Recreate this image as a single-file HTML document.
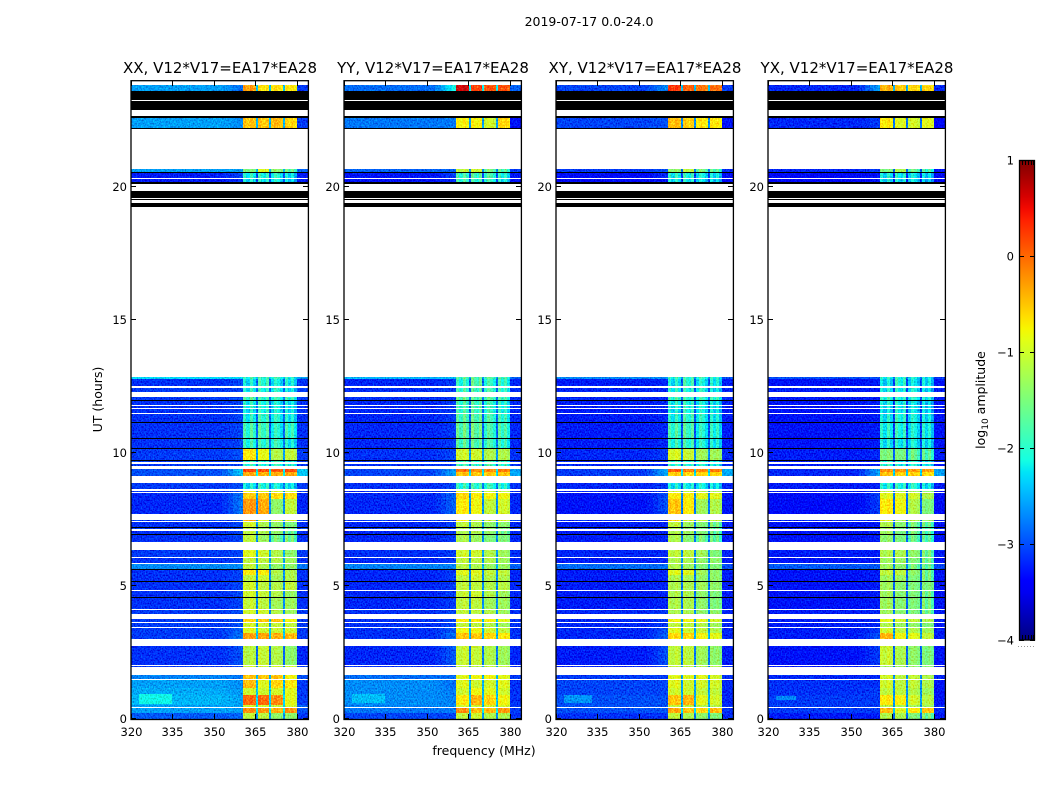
<!DOCTYPE html>
<html><head><meta charset="utf-8"><title>2019-07-17 dynamic spectra</title>
<style>html,body{margin:0;padding:0;background:#fff}svg{display:block}text{font-family:"DejaVu Sans","Liberation Sans",sans-serif;fill:#000}</style></head>
<body>
<svg id="fig" xmlns="http://www.w3.org/2000/svg" width="1050" height="800" viewBox="0 0 1050 800">
<defs>
<filter id="grain" filterUnits="userSpaceOnUse" x="120" y="70" width="840" height="660" color-interpolation-filters="sRGB">
<feTurbulence type="fractalNoise" baseFrequency="0.75 0.6" numOctaves="1" seed="7" result="n"/>
<feColorMatrix in="n" type="matrix" values="0 0 0 0 0.5 1 0 0 0 0 1 0 0 0 0 0 0 0 0 1" result="g"/>
<feComposite in="g" in2="SourceAlpha" operator="in" result="ga"/>
<feComposite in="SourceGraphic" in2="ga" operator="arithmetic" k1="0" k2="1" k3="0.8" k4="-0.4"/>
</filter>
<linearGradient id="jet" x1="0" y1="1" x2="0" y2="0"></linearGradient>
</defs>
<text x="589" y="26" text-anchor="middle" font-size="12.5">2019-07-17 0.0-24.0</text>
<text x="484" y="755" text-anchor="middle" font-size="12.5">frequency (MHz)</text>
<text transform="translate(102,399.5) rotate(-90)" text-anchor="middle" font-size="12.5">UT (hours)</text>
<text transform="translate(985,400) rotate(-90)" text-anchor="middle" font-size="12.5">log<tspan font-size="9" dy="3">10</tspan><tspan dy="-3"> amplitude</tspan></text>
</svg>
<script>
const SVGNS = 'http://www.w3.org/2000/svg';
const panelTitles = ['XX, V12*V17=EA17*EA28','YY, V12*V17=EA17*EA28','XY, V12*V17=EA17*EA28','YX, V12*V17=EA17*EA28'];
const xTicks = [320,335,350,365,380];
const yTicks = [0,5,10,15,20];
const colorTicks = [-4,-3,-2,-1,0,1];
const utRows = [[0,.23],[.23,.41],[.45,.52],[.52,.9],[.9,1.15],[1.15,1.47],[1.5,1.66],[1.96,1.99],[2.03,2.75],[3.01,3.24],[3.24,3.42],[3.46,3.61],[3.65,3.76],[3.95,4.1],[4.14,4.55],[4.59,4.82],[4.85,5.15],[5.19,5.4],[5.4,5.61],[5.64,5.83],[5.87,6.06],[6.09,6.36],[6.66,6.92],[6.96,7.07],[7.15,7.19],[7.22,7.41],[7.45,7.49],[7.71,8.27],[8.27,8.5],[8.54,8.58],[8.65,8.88],[9.14,9.29],[9.29,9.41],[9.52,9.59],[9.67,9.71],[9.74,10.16],[10.2,10.53],[10.57,11.14],[11.17,11.47],[11.51,11.66],[11.7,11.78],[11.81,11.96],[12,12.11],[12.3,12.45],[12.53,12.79],[12.79,12.87],[20.2,20.31],[20.35,20.54],[20.58,20.69],[22.23,22.61],[23.63,23.85]];
const flaggedRows = [[4.55,4.59],[5.15,5.19],[5.61,5.64],[6.92,6.96],[7.19,7.22],[9.71,9.74],[10.16,10.2],[10.53,10.57],[11.14,11.17],[11.96,12],[19.26,19.41],[19.52,19.56],[19.6,19.86],[20.13,20.2],[20.54,20.58],[22.19,22.23],[22.61,22.68],[22.91,23.25],[23.29,23.63]];
// each row: low, near-band, band1, band2, band3, band4, band-gap, upper-edge (log10 amplitude)
const xxLevels = [[-2.95,-2.9,-1.1,-1.1,-1.4,-1.4,-2.7,-3.1],[-2.6,-2.6,-.2,-.25,-.4,-.25,-2.2,-3],[-2.6,-2.6,-1,-1,-1.1,-1,-2.4,-2.9],[-2.5,-2.6,0,0,-.2,-.9,-2.3,-3.1],[-2.55,-2.65,-1,-1,-1,-.9,-2.4,-3.1],[-2.6,-2.7,-.45,-.9,-.6,-.7,-2.5,-3.1],[-2.75,-2.8,-.5,-.5,-.5,-.8,-2.5,-3],[-3.1,-3.1,-1,-1,-1,-1,-2.7,-3.1],[-3.15,-3,-1.15,-1.05,-1.2,-1.4,-2.9,-3.2],[-3.1,-2.8,-.3,-.3,-.4,-.45,-2.4,-3.1],[-3.1,-2.9,-.9,-1,-1.05,-1,-2.4,-3.1],[-3.1,-3,-1,-1,-1.1,-1.1,-2.6,-3.1],[-3.1,-3,-.6,-.5,-.5,-.8,-2.4,-3.1],[-3.1,-3,-1,-1,-1.2,-1.3,-2.7,-3.1],[-3.15,-3.05,-1.05,-1.1,-1.3,-1.3,-2.7,-3.15],[-3.15,-3.05,-1,-1.05,-1.2,-1.35,-2.7,-3.15],[-3.15,-3.05,-1,-1.1,-1.2,-1.1,-2.7,-3.15],[-3.15,-3.05,-1.1,-1,-1.3,-1.2,-2.7,-3.15],[-3.15,-3.05,-.7,-.7,-1.2,-1.2,-2.7,-3.15],[-2.7,-2.7,-1.1,-1.2,-1.4,-1.4,-2.5,-2.8],[-3.15,-3.05,-1.1,-1.1,-1.2,-1.3,-2.6,-3.15],[-3.1,-3.05,-.9,-1,-1.2,-1.4,-2.5,-3.1],[-3.15,-3.05,-1.1,-1.3,-1.6,-1.6,-2.7,-3.15],[-3.15,-3.05,-1.1,-1.2,-1.4,-1.7,-2.7,-3.15],[-3.1,-3.05,-1.1,-1.3,-1.4,-1.6,-2.7,-3.1],[-3.15,-3.05,-1,-1.2,-1.4,-1.5,-2.7,-3.15],[-3.1,-3.05,-.4,-.9,-1,-1,-2.7,-3.1],[-3.2,-2.8,-.25,-.35,-1.4,-1.1,-2.7,-3.2],[-3.2,-2.8,-.55,-.5,-.65,-.65,-2.6,-3.2],[-3.15,-3.05,-.8,-.9,-1,-1,-2.7,-3.15],[-3.1,-3,-2.2,-2,-2.2,-2.3,-2.8,-3.1],[-3,-2.4,-.35,-.4,-.4,-.35,-2.2,-2.4],[-3,-2.4,.2,.15,.05,.15,-2.2,-2.4],[-3.1,-3.05,-2,-2,-2,-2.1,-2.8,-3.1],[-3.1,-3.05,-2,-2,-2,-2.2,-2.8,-3.1],[-3.1,-3,-.7,-.85,-1.2,-1.1,-2.6,-3.1],[-3.15,-3.05,-2,-1.9,-2,-2.2,-2.8,-3.15],[-3.15,-3.05,-1.9,-1.8,-2.1,-2,-2.9,-3.15],[-3.15,-3.05,-2.1,-1.9,-2.1,-2.2,-2.9,-3.15],[-3.15,-3.05,-2.2,-2,-2.2,-2.3,-2.9,-3.15],[-3.15,-3.05,-2.1,-2,-2.2,-2.3,-2.9,-3.15],[-3.15,-3.05,-2.1,-2,-2.2,-2.3,-2.9,-3.15],[-3.1,-3.05,-1.8,-1.9,-2,-2,-2.8,-3.1],[-3.1,-3.05,-2.1,-2,-2.1,-2.3,-2.9,-3.1],[-3.15,-3.05,-2.2,-1.9,-2.2,-2.2,-2.9,-3.15],[-2.3,-2.3,-2,-1.9,-2,-2.1,-2.4,-2.6],[-3.25,-3.15,-2.2,-2.1,-2.2,-2.4,-3,-3.25],[-3.25,-3.05,-2.1,-2,-2.1,-2.3,-3,-3.25],[-2.6,-2.6,-1.5,-.9,-1.4,-1.7,-2.5,-2.9],[-2.6,-2.7,-.5,-.5,-.45,-.6,-2.5,-3.1],[-2.6,-2.85,-.3,-.65,-.65,-.7,-2.4,-3.1]];
const yyLevels = [[-3.05,-3.05,-1.1,-1,-1.2,-1.2,-2.7,-3.15],[-2.8,-2.8,-.2,-.45,-.45,-.25,-2.2,-3.1],[-2.75,-2.75,-1,-1,-1,-1,-2.5,-3.1],[-2.7,-2.75,-.7,-.4,-.6,-.8,-2.4,-3.15],[-2.7,-2.8,-1,-.8,-.9,-1,-2.5,-3.15],[-2.7,-2.85,-.9,-1,-1,-.9,-2.5,-3.15],[-2.85,-2.85,-.9,-.8,-.8,-.9,-2.5,-3.1],[-3.15,-3.05,-1.1,-1.1,-1.1,-1.1,-2.6,-3.15],[-3.2,-2.95,-1.05,-1.05,-1.2,-1.3,-2.8,-3.2],[-3.15,-2.85,-.5,-.5,-.6,-.7,-2.5,-3.15],[-3.15,-2.95,-.8,-.8,-1,-1.1,-2.5,-3.15],[-3.15,-3.05,-1.1,-1.1,-1.2,-1.3,-2.6,-3.15],[-3.15,-3.05,-.7,-.7,-.8,-.9,-2.5,-3.15],[-3.15,-3.05,-1.1,-1.1,-1.2,-1.3,-2.7,-3.15],[-3.2,-3.1,-1.1,-1.1,-1.3,-1.3,-2.7,-3.2],[-3.2,-3.1,-1.05,-1,-1.2,-1.3,-2.7,-3.2],[-3.2,-3.1,-1.1,-1.1,-1.2,-1.15,-2.7,-3.2],[-3.2,-3.1,-1.1,-1,-1.2,-1.2,-2.7,-3.2],[-3.2,-3.1,-.9,-.9,-1.1,-1.1,-2.7,-3.2],[-2.75,-2.75,-1.15,-1.2,-1.35,-1.35,-2.5,-2.9],[-3.2,-3.1,-1.1,-1.1,-1.2,-1.3,-2.7,-3.2],[-3.15,-3.1,-1,-1,-1.2,-1.3,-2.6,-3.15],[-3.2,-3.1,-1.2,-1.3,-1.5,-1.5,-2.7,-3.2],[-3.2,-3.1,-1.2,-1.2,-1.4,-1.6,-2.7,-3.2],[-3.15,-3.1,-1.2,-1.3,-1.4,-1.5,-2.7,-3.15],[-3.2,-3.1,-1.1,-1.2,-1.4,-1.4,-2.7,-3.2],[-3.15,-3.1,-.7,-1,-1.1,-1,-2.7,-3.15],[-3.2,-2.9,-.7,-.8,-1.1,-1,-2.7,-3.2],[-3.2,-2.9,-.6,-.7,-.8,-.8,-2.6,-3.2],[-3.2,-3.1,-.9,-1,-1.1,-1.1,-2.7,-3.2],[-3.15,-3.05,-2,-1.9,-2,-2.1,-2.8,-3.15],[-3.05,-2.55,-.5,-.5,-.55,-.5,-2.3,-2.55],[-3.05,-2.6,-.05,-.2,-.2,-.1,-2.3,-2.6],[-3.15,-3.1,-1.9,-1.9,-1.9,-2,-2.8,-3.15],[-3.15,-3.1,-1.9,-1.9,-1.9,-2,-2.8,-3.15],[-3.15,-3.05,-1,-1,-1.2,-1.2,-2.6,-3.15],[-3.2,-3.1,-1.8,-1.7,-1.9,-2,-2.8,-3.2],[-3.2,-3.1,-1.7,-1.6,-1.9,-1.9,-2.9,-3.2],[-3.2,-3.1,-1.8,-1.7,-1.9,-2,-2.9,-3.2],[-3.2,-3.1,-1.9,-1.8,-2,-2.1,-2.9,-3.2],[-3.2,-3.1,-1.9,-1.8,-2,-2.1,-2.9,-3.2],[-3.2,-3.1,-1.9,-1.8,-2,-2.1,-2.9,-3.2],[-3.15,-3.1,-1.7,-1.7,-1.8,-1.9,-2.8,-3.15],[-3.15,-3.1,-1.9,-1.8,-1.9,-2,-2.9,-3.15],[-3.2,-3.1,-2,-1.7,-2,-2,-2.9,-3.2],[-2.5,-2.5,-1.8,-1.7,-1.8,-1.9,-2.6,-2.9],[-3.3,-3.2,-1.9,-1.9,-2,-2.2,-3,-3.3],[-3.3,-3.1,-1.9,-1.8,-1.9,-2.1,-3,-3.3],[-2.9,-2.9,-1.1,-1,-1.6,-1.8,-2.7,-3.1],[-2.8,-2.8,-.75,-.75,-1,-.6,-2.6,-3.3],[-2.85,-2.1,.65,.2,.1,.1,-2.2,-2.9]];
const xyLevels = [[-3.15,-3.15,-1.1,-1.2,-1.4,-1.5,-2.8,-3.2],[-3,-2.95,-.35,-.5,-.6,-.45,-2.3,-3.15],[-3,-3,-1.1,-1.1,-1.2,-1.2,-2.6,-3.15],[-3,-3,-.5,-.4,-.9,-1,-2.5,-3.2],[-3.05,-3.05,-1,-1,-1.1,-1.1,-2.6,-3.2],[-3.05,-3.05,-.9,-1,-1,-1,-2.6,-3.2],[-3.1,-3.1,-.9,-.9,-.9,-1,-2.6,-3.15],[-3.2,-3.1,-1.1,-1.1,-1.2,-1.2,-2.7,-3.2],[-3.25,-3,-1.1,-1.1,-1.3,-1.4,-2.8,-3.25],[-3.2,-2.9,-.6,-.6,-.8,-.9,-2.5,-3.2],[-3.2,-3,-.9,-1,-1.1,-1.2,-2.6,-3.2],[-3.2,-3.1,-1.1,-1.1,-1.2,-1.3,-2.7,-3.2],[-3.2,-3.1,-.8,-.8,-.9,-1,-2.6,-3.2],[-3.2,-3.1,-1.2,-1.2,-1.4,-1.4,-2.7,-3.2],[-3.25,-3.2,-1.2,-1.2,-1.4,-1.5,-2.8,-3.25],[-3.25,-3.2,-1.2,-1.2,-1.4,-1.5,-2.8,-3.25],[-3.25,-3.2,-1.2,-1.2,-1.3,-1.4,-2.8,-3.25],[-3.25,-3.2,-1.2,-1.2,-1.4,-1.4,-2.8,-3.25],[-3.25,-3.2,-.9,-.9,-1.3,-1.4,-2.8,-3.25],[-2.85,-2.85,-1.2,-1.3,-1.5,-1.5,-2.6,-3],[-3.25,-3.2,-1.2,-1.2,-1.4,-1.4,-2.7,-3.25],[-3.2,-3.2,-1.1,-1.1,-1.3,-1.5,-2.7,-3.2],[-3.25,-3.2,-1.2,-1.4,-1.6,-1.7,-2.8,-3.25],[-3.25,-3.2,-1.2,-1.3,-1.5,-1.7,-2.8,-3.25],[-3.2,-3.2,-1.2,-1.4,-1.5,-1.7,-2.8,-3.2],[-3.25,-3.2,-1.1,-1.3,-1.5,-1.6,-2.8,-3.25],[-3.2,-3.2,-.6,-1,-1.1,-1.1,-2.8,-3.2],[-3.3,-3,-.5,-.7,-1.3,-1.2,-2.8,-3.3],[-3.3,-3,-.7,-.7,-.9,-.9,-2.7,-3.3],[-3.25,-3.2,-1,-1.1,-1.2,-1.2,-2.8,-3.25],[-3.2,-3.1,-2.2,-2.1,-2.2,-2.3,-2.9,-3.2],[-3.1,-2.55,-.55,-.6,-.6,-.6,-2.3,-2.55],[-3.1,-2.55,.05,-.1,-.2,-.1,-2.3,-2.55],[-3.2,-3.2,-2,-2,-2.1,-2.2,-2.9,-3.2],[-3.2,-3.2,-2,-2,-2.1,-2.2,-2.9,-3.2],[-3.2,-3.1,-.95,-1.05,-1.3,-1.3,-2.7,-3.2],[-3.25,-3.2,-2,-1.9,-2.1,-2.2,-2.9,-3.25],[-3.25,-3.2,-1.9,-1.8,-2.1,-2.1,-3,-3.25],[-3.25,-3.2,-2.1,-1.9,-2.1,-2.2,-3,-3.25],[-3.25,-3.2,-2.2,-2,-2.2,-2.3,-3,-3.25],[-3.25,-3.2,-2.1,-2,-2.2,-2.3,-3,-3.25],[-3.25,-3.2,-2.1,-2,-2.2,-2.3,-3,-3.25],[-3.2,-3.2,-1.9,-1.9,-2,-2,-2.9,-3.2],[-3.2,-3.2,-2.1,-2,-2.1,-2.3,-3,-3.2],[-3.25,-3.2,-2.2,-1.9,-2.2,-2.2,-3,-3.25],[-2.7,-2.7,-2,-1.9,-2,-2.1,-2.7,-3],[-3.35,-3.3,-2.2,-2.1,-2.3,-2.4,-3.1,-3.35],[-3.35,-3.2,-2.1,-2,-2.2,-2.3,-3.1,-3.35],[-3.1,-3,-1.4,-1.1,-1.6,-1.8,-2.8,-3.2],[-3.05,-3,-.45,-.55,-.7,-.7,-2.7,-3.3],[-3.05,-2.7,.25,.05,-.1,-.05,-2.4,-3.1]];
const yxLevels = [[-3.25,-3.25,-1.2,-1.2,-1.5,-1.6,-2.9,-3.3],[-3.1,-3.1,-.45,-.9,-.7,-.5,-2.4,-3.2],[-3.1,-3.1,-1.2,-1.2,-1.3,-1.3,-2.7,-3.2],[-3.1,-3.1,-.7,-.75,-1,-1.15,-2.6,-3.3],[-3.15,-3.1,-1.1,-1.1,-1.2,-1.3,-2.7,-3.3],[-3.15,-3.15,-1,-1.1,-1.1,-1.2,-2.7,-3.3],[-3.2,-3.2,-1,-1.1,-1.1,-1.2,-2.7,-3.2],[-3.25,-3.2,-1.3,-1.3,-1.4,-1.4,-2.8,-3.25],[-3.3,-3.1,-1.05,-1.2,-1.4,-1.5,-2.9,-3.3],[-3.25,-3,-.4,-.8,-.9,-1.1,-2.6,-3.25],[-3.25,-3.1,-1,-1.1,-1.2,-1.3,-2.7,-3.25],[-3.25,-3.2,-1.2,-1.3,-1.4,-1.5,-2.8,-3.25],[-3.25,-3.2,-.9,-1,-1.1,-1.2,-2.7,-3.25],[-3.25,-3.2,-1.3,-1.4,-1.5,-1.6,-2.8,-3.25],[-3.3,-3.25,-1.3,-1.4,-1.5,-1.6,-2.9,-3.3],[-3.3,-3.25,-1.3,-1.4,-1.5,-1.6,-2.9,-3.3],[-3.3,-3.25,-1.3,-1.4,-1.5,-1.5,-2.9,-3.3],[-3.3,-3.25,-1.3,-1.3,-1.5,-1.6,-2.9,-3.3],[-3.3,-3.25,-1.1,-1.1,-1.4,-1.6,-2.9,-3.3],[-2.95,-2.95,-1.3,-1.4,-1.6,-1.7,-2.7,-3.05],[-3.3,-3.25,-1.3,-1.3,-1.5,-1.6,-2.8,-3.3],[-3.25,-3.25,-1.2,-1.2,-1.4,-1.6,-2.8,-3.25],[-3.3,-3.25,-1.4,-1.5,-1.7,-1.8,-2.9,-3.3],[-3.3,-3.25,-1.3,-1.5,-1.6,-1.8,-2.9,-3.3],[-3.25,-3.25,-1.3,-1.5,-1.6,-1.8,-2.9,-3.25],[-3.3,-3.25,-1.2,-1.4,-1.6,-1.7,-2.9,-3.3],[-3.25,-3.25,-.9,-1.2,-1.2,-1.3,-2.9,-3.25],[-3.35,-3.1,-.7,-.8,-1.2,-1.5,-2.9,-3.35],[-3.35,-3.1,-.9,-.9,-1,-1.2,-2.8,-3.35],[-3.3,-3.25,-1.1,-1.2,-1.3,-1.4,-2.9,-3.3],[-3.25,-3.2,-2.1,-2,-2.1,-2.3,-3,-3.25],[-3.2,-2.6,-.5,-.55,-.6,-.65,-2.4,-2.6],[-3.2,-2.6,-.2,-.25,-.3,-.3,-2.4,-2.6],[-3.25,-3.25,-2,-2.1,-2.1,-2.3,-3,-3.25],[-3.25,-3.25,-2,-2.1,-2.1,-2.3,-3,-3.25],[-3.25,-3.2,-1.5,-1.5,-1.7,-1.8,-2.9,-3.25],[-3.3,-3.25,-2.2,-2.1,-2.2,-2.3,-3,-3.3],[-3.3,-3.25,-2.1,-2,-2.2,-2.2,-3.1,-3.3],[-3.3,-3.25,-2.2,-2,-2.2,-2.3,-3.1,-3.3],[-3.3,-3.25,-2.3,-2.1,-2.3,-2.4,-3.1,-3.3],[-3.3,-3.25,-2.2,-2.1,-2.3,-2.4,-3.1,-3.3],[-3.3,-3.25,-2.2,-2.1,-2.3,-2.4,-3.1,-3.3],[-3.25,-3.25,-2,-2,-2.1,-2.2,-3,-3.25],[-3.25,-3.25,-2.2,-2.1,-2.2,-2.4,-3.1,-3.25],[-3.3,-3.25,-2.3,-2,-2.3,-2.3,-3.1,-3.3],[-3,-3,-2.1,-2,-2.2,-2.3,-2.8,-3.1],[-3.4,-3.3,-2.3,-2.2,-2.3,-2.5,-3.2,-3.4],[-3.4,-3.3,-2.2,-2.1,-2.3,-2.4,-3.2,-3.4],[-3.2,-3.1,-1.5,-1.2,-1.7,-1.9,-2.9,-3.3],[-3.2,-3.1,-.7,-.9,-1,-.9,-2.8,-3.4],[-3.2,-2.6,-.4,-.5,-.6,-.6,-2.5,-3.2]];
// extra patches in low band: freq start, freq end, UT start, UT end, level
const xxPatches = [[323,335,.55,.95,-2.15]];
const yyPatches = [[323,335,.6,.95,-2.45]];
const xyPatches = [[323,333,.6,.9,-2.65]];
const yxPatches = [[323,330,.7,.85,-2.7]];
// channel-to-channel offsets inside each of the four sub-bands
const bandRipple = [[.12,-.15,.2,-.1],[.15,-.1,-.2,.1],[-.1,.2,.05,-.15],[.2,-.1,.15,-.2]];
const panelNames = ['xx','yy','xy','yx'];
const panelLevels = [xxLevels,yyLevels,xyLevels,yxLevels];
const panelPatches = [xxPatches,yyPatches,xyPatches,yxPatches];

const FIG = document.getElementById('fig');
const AX_LEFT = [131,344,556,768], AX_W = 177, AX_TOP = 81, AX_BOT = 719;
function xAxis(i,f){return AX_LEFT[i]+(f-320)*AX_W/64;}
function yAxis(u){return AX_BOT-u*(AX_BOT-AX_TOP)/24;}
function cbAxis(v){return 640-(v+4)*96;}
function jet(v){
  const p=Math.max(0,Math.min(1,(v+4)/5));
  const c=(a)=>Math.round(255*Math.max(0,Math.min(1,a)));
  const ramp=(pts)=>{for(let k=1;k<pts.length;k++){if(p<=pts[k][0]){const t=(p-pts[k-1][0])/(pts[k][0]-pts[k-1][0]);return pts[k-1][1]+t*(pts[k][1]-pts[k-1][1]);}}return pts[pts.length-1][1];};
  const r=ramp([[0,0],[.35,0],[.66,1],[.89,1],[1,.5]]);
  const g=ramp([[0,0],[.125,0],[.375,1],[.64,1],[.91,0],[1,0]]);
  const b=ramp([[0,.5],[.11,1],[.34,1],[.65,0],[1,0]]);
  return 'rgb('+c(r)+','+c(g)+','+c(b)+')';
}
function mk(parent,tag,attrs){const el=document.createElementNS(SVGNS,tag);for(const k in attrs)el.setAttribute(k,attrs[k]);parent.appendChild(el);return el;}
const bandEdges = [[360.6,365.2],[365.9,370],[370.6,375],[375.7,380]];
const gapEdges = [[365.2,365.9],[370,370.6],[375,375.7]];

panelNames.forEach(function(pn,i){
  const x0=AX_LEFT[i],levels=panelLevels[i];
  const g=mk(FIG,'g',{});
  
  
  const heat=mk(g,'g',{filter:'url(#grain)','shape-rendering':'crispEdges'});
  
  
  function cell(f0,f1,u0,u1,v){
    const a=Math.round(xAxis(i,f0)),b=Math.round(xAxis(i,f1)),t=Math.round(yAxis(u1)),d=Math.round(yAxis(u0));
    const r=mk(heat,'rect',{x:a,y:t,width:Math.max(1,b-a),height:Math.max(1,d-t),fill:jet(v)});
    
    
  }
  utRows.forEach(function(row,ri){
    const L=levels[ri];
    cell(320,353,row[0],row[1],L[0]);
    cell(353,355,row[0],row[1],L[0]+.2*(L[1]-L[0]));
    cell(355,357,row[0],row[1],L[0]+.45*(L[1]-L[0]));
    cell(357,359,row[0],row[1],L[0]+.75*(L[1]-L[0]));
    cell(359,360.6,row[0],row[1],L[1]);
    bandEdges.forEach(function(be,b){
      const base=L[2+b],w=(be[1]-be[0])/4,gain=base<-1.5?1.2:.35;
      bandRipple[b].forEach(function(off,k){
        cell(be[0]+k*w,be[0]+(k+1)*w,row[0],row[1],base+off*gain);
      });
    });
    gapEdges.forEach(function(ge){cell(ge[0],ge[1],row[0],row[1],L[6]);});
    cell(380,384,row[0],row[1],L[7]);
  });
  panelPatches[i].forEach(function(p){cell(p[0],p[1],p[2],p[3],p[4]);});
  flaggedRows.forEach(function(fr){
    const t=Math.round(yAxis(fr[1])),d=Math.round(yAxis(fr[0]));
    const r=mk(g,'rect',{x:x0,y:t,width:AX_W,height:Math.max(1,d-t),fill:'#000','shape-rendering':'crispEdges'});
    
    
  });
  const frame=mk(g,'rect',{x:x0,y:AX_TOP-.3,width:AX_W+.4,height:AX_BOT-AX_TOP+.8,fill:'none',stroke:'#000','stroke-width':1.3});
  
  
  xTicks.forEach(function(t){
    const x=Math.round(xAxis(i,t))+.5;
    const a=mk(g,'line',{x1:x,x2:x,y1:AX_BOT,y2:AX_BOT-5,stroke:'#000'});
    
    
    const b=mk(g,'line',{x1:x,x2:x,y1:AX_TOP,y2:AX_TOP+5,stroke:'#000'});
    
    
    const l=mk(g,'text',{x:x,y:736,'text-anchor':'middle','font-size':11.5});
    l.textContent=t;
    
    
  });
  yTicks.forEach(function(t){
    const y=Math.round(yAxis(t))-.5;
    const a=mk(g,'line',{x1:x0,x2:x0+5,y1:y,y2:y,stroke:'#000'});
    
    
    const b=mk(g,'line',{x1:x0+AX_W,x2:x0+AX_W-5,y1:y,y2:y,stroke:'#000'});
    
    
    const l=mk(g,'text',{x:x0-4,y:y+4.5,'text-anchor':'end','font-size':11.5});
    l.textContent=t;
    
    
  });
  const title=mk(g,'text',{x:x0+AX_W/2+.5,y:73,'text-anchor':'middle','font-size':15});
  title.textContent=panelTitles[i];
  
  
});

const grad=document.getElementById('jet');
for(let s=0;s<=40;s++){
  const v=-4+5*s/40;
  mk(grad,'stop',{offset:(s/40),'stop-color':jet(v)});
}
const cb=mk(FIG,'g',{});


const bar=mk(cb,'rect',{x:1019.5,y:160.5,width:15,height:479.5,fill:'url(#jet)',stroke:'#000','stroke-width':1.3});


colorTicks.forEach(function(t){
  const y=Math.round(cbAxis(t))+.5;
  const a=mk(cb,'line',{x1:1019,x2:1024,y1:y,y2:y,stroke:'#000'});
  
  
  const b=mk(cb,'line',{x1:1035,x2:1030,y1:y,y2:y,stroke:'#000'});
  
  
  const l=mk(cb,'text',{x:1014,y:y+4,'text-anchor':'end','font-size':11.5});
  l.textContent=(t<0?'\u2212':'')+Math.abs(t);
  
  
});
[1022,1025,1028,1031,1033].forEach(function(x){
  const a=mk(cb,'line',{x1:x+.5,x2:x+.5,y1:160,y2:165,stroke:'#000'});
  
  
  const b=mk(cb,'line',{x1:x+.5,x2:x+.5,y1:640,y2:635,stroke:'#000'});
  
  
});
[1018,1021,1024,1027,1030,1033].forEach(function(x){
  const d=mk(cb,'rect',{x:x,y:646,width:1,height:1,fill:'#999'});
  
  
});
</script>
</body></html>
